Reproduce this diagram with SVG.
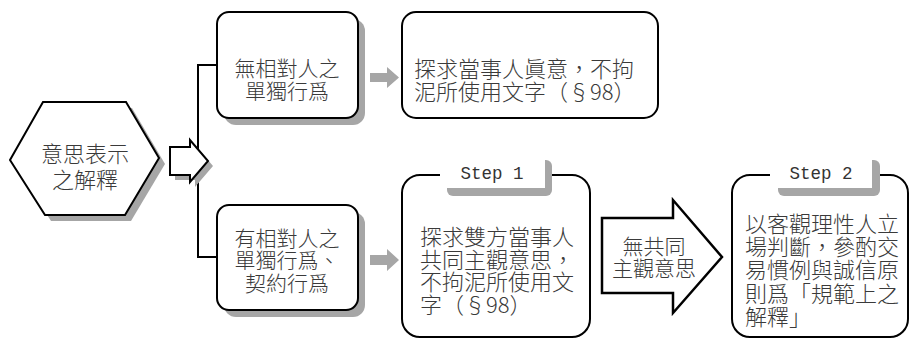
<svg xmlns="http://www.w3.org/2000/svg" width="911" height="338" viewBox="0 0 911 338">
<style>
.t{font-family:"Noto Sans CJK TC","Noto Sans CJK SC",sans-serif;font-size:21px;font-weight:300;fill:#3a3a3a;dominant-baseline:central}
.t22{font-size:22px}
.c{text-anchor:middle}
.box{fill:#fff;stroke:#000;stroke-width:2}
.sh{fill:#a6a6a6}
.ga{fill:#a6a6a6}
.tab{font-family:"Liberation Mono","Courier New",monospace;font-size:17.5px;fill:#333;text-anchor:middle}
.ln{fill:none;stroke:#000;stroke-width:2}
</style>
<rect width="911" height="338" fill="#fff"/>

<g id="connectors">
  <path class="ln" d="M217,65 H198 V257 H217"/>
  <path class="ga" d="M370,73 H387 V67 L399,77.5 L387,88 V82 H370 Z"/>
  <path class="ga" d="M370,255 H387 V249 L399,260 L387,271 V265 H370 Z"/>
</g>

<g id="hexagon">
  <polygon class="sh" points="16,166 49,108 132,108 165,164 131,221 51,221"/>
  <polygon class="box" points="10,160 43,102 126,102 159,158 125,215 45,215"/>
  <text class="t t22 c" x="85" y="152">意思表示</text>
  <text class="t t22 c" x="85" y="178">之解釋</text>
</g>

<g id="open-arrow">
  <path class="sh" d="M175,152 H195 V145 L213,166 L195,187 V180 H175 Z"/>
  <path class="box" d="M170,147 H190 V140 L208,161 L190,182 V175 H170 Z"/>
</g>

<g id="box-unilateral">
  <rect class="sh" x="224" y="19" width="141" height="106" rx="12"/>
  <rect class="box" x="217" y="12" width="141" height="106" rx="12"/>
  <text class="t c" x="287" y="67">無相對人之</text>
  <text class="t c" x="287" y="90">單獨行爲</text>
</g>

<g id="box-true-intent">
  <rect class="box" x="402" y="12" width="256" height="106" rx="14"/>
  <text class="t t22" x="414" y="67">探求當事人眞意，不拘</text>
  <text class="t t22" x="414" y="90">泥所使用文字（§98）</text>
</g>

<g id="box-bilateral">
  <rect class="sh" x="224" y="212" width="141" height="105" rx="12"/>
  <rect class="box" x="217" y="205" width="141" height="105" rx="12"/>
  <text class="t c" x="287" y="237">有相對人之</text>
  <text class="t c" x="287" y="259">單獨行爲、</text>
  <text class="t c" x="287" y="282">契約行爲</text>
</g>

<g id="step1">
  <rect class="box" x="402" y="175" width="188" height="162" rx="18"/>
  <rect class="sh" x="447" y="160" width="105" height="36" rx="6"/>
  <rect x="440" y="150" width="105" height="38" fill="#fff"/>
  <text class="tab" x="492" y="179">Step 1</text>
  <text class="t t22" x="420" y="234.5">探求雙方當事人</text>
  <text class="t t22" x="420" y="257.5">共同主觀意思，</text>
  <text class="t t22" x="420" y="280">不拘泥所使用文</text>
  <text class="t t22" x="420" y="303">字（§98）</text>
</g>

<g id="big-arrow">
  <path fill="#fff" stroke="#000" stroke-width="2.5" stroke-linejoin="miter" d="M602,218 H673 V200 L722,257 L673,313 V293 H602 Z"/>
  <text class="t c" x="654" y="245">無共同</text>
  <text class="t c" x="654" y="267">主觀意思</text>
</g>

<g id="step2">
  <rect class="box" x="732" y="175" width="176" height="162" rx="18"/>
  <rect class="sh" x="778" y="160" width="102" height="36" rx="6"/>
  <rect x="770" y="150" width="102" height="38" fill="#fff"/>
  <text class="tab" x="821" y="179">Step 2</text>
  <text class="t t22" x="745" y="222">以客觀理性人立</text>
  <text class="t t22" x="745" y="245">場判斷，參酌交</text>
  <text class="t t22" x="745" y="268">易慣例與誠信原</text>
  <text class="t t22" x="745" y="292">則爲「規範上之</text>
  <text class="t t22" x="745" y="315">解釋」</text>
</g>
</svg>
